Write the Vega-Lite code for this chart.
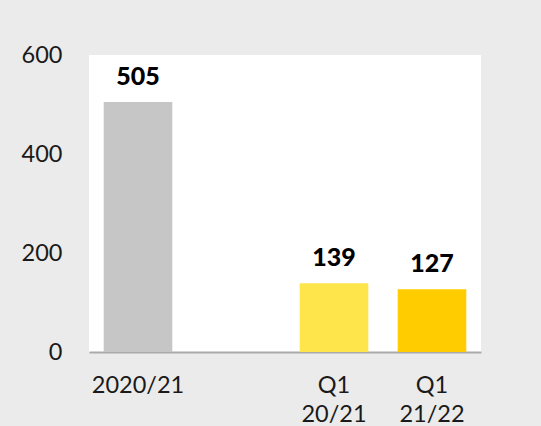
{
  "$schema": "https://vega.github.io/schema/vega-lite/v6.json",
  "width": 392,
  "height": 297,
  "autosize": {"type": "none"},
  "padding": {"left": 89, "top": 55, "right": 60, "bottom": 74},
  "background": "#ebebeb",
  "config": {
    "view": {"fill": "white", "stroke": null},
    "font": "Lato"
  },
  "data": {
    "values": [
      {"period": "2020/21", "value": 505, "color": "#c6c6c6"},
      {"period": "Q1 20/21", "value": 139, "color": "#ffe54c"},
      {"period": "Q1 21/22", "value": 127, "color": "#ffcc00"}
    ]
  },
  "encoding": {
    "x": {
      "field": "period",
      "type": "nominal",
      "sort": null,
      "scale": {"domain": ["2020/21", " ", "Q1 20/21", "Q1 21/22"], "paddingInner": 0.3, "paddingOuter": 0.15},
      "axis": {
        "title": null,
        "labelAngle": 0,
        "labelExpr": "split(datum.label, ' ')",
        "labelFontSize": 23.5,
        "labelFontWeight": "normal",
        "labelLineHeight": 29,
        "labelColor": "#1a1a1a",
        "labelPadding": 21,
        "ticks": false,
        "domainColor": "#aaaaaa",
        "domainWidth": 2
      }
    },
    "y": {
      "field": "value",
      "type": "quantitative",
      "scale": {"domain": [0, 600]},
      "axis": {
        "title": null,
        "values": [0, 200, 400, 600],
        "labelFontSize": 23.5,
        "labelFontWeight": "normal",
        "labelColor": "#1a1a1a",
        "labelPadding": 27,
        "ticks": false,
        "domain": false,
        "grid": false
      }
    }
  },
  "layer": [
    {
      "mark": {"type": "bar"},
      "encoding": {
        "color": {"field": "color", "type": "nominal", "scale": null}
      }
    },
    {
      "mark": {"type": "text", "fontWeight": 900, "fontSize": 25, "dy": -17, "baseline": "alphabetic", "color": "black"},
      "encoding": {
        "text": {"field": "value", "type": "quantitative"}
      }
    }
  ]
}
